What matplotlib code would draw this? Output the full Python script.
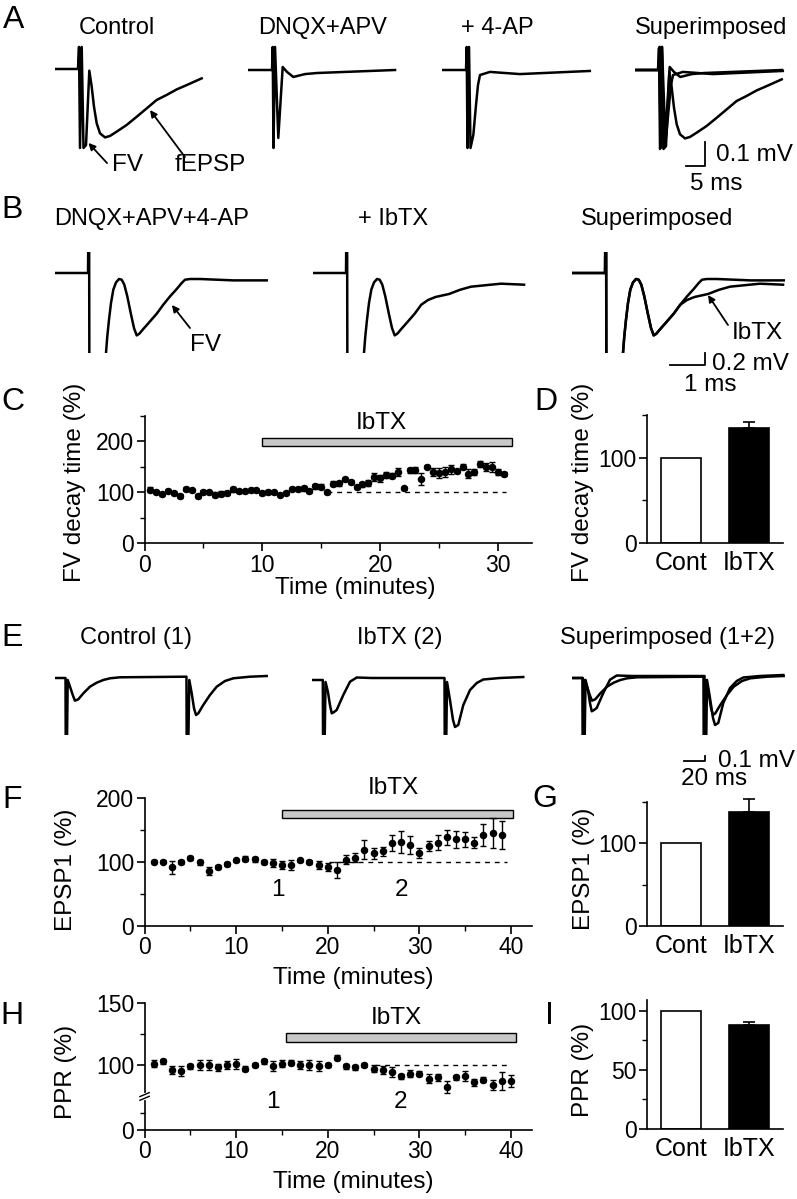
import numpy as np
import matplotlib
matplotlib.use('Agg')
import matplotlib.pyplot as plt
from matplotlib.patches import Rectangle

plt.rcParams['font.family'] = ['Liberation Sans', 'DejaVu Sans']

# ---------------- Panel A traces (ms, mV) ----------------
A_ctrl_t = [0, 6.05, 6.32, 6.58, 7.03, 7.5, 8.16, 9.03, 9.66, 10.26, 10.97, 11.84, 13.16, 14.47, 16.24, 18.87,
            21.5, 24.13, 26.76, 29.39, 32.03, 34.66, 38.6]
A_ctrl_v = [0, 0, 0.092, -0.329, 0.092, -0.329, -0.317, -0.007, -0.074, -0.157, -0.226, -0.268, -0.285, -0.279,
            -0.261, -0.233, -0.199, -0.164, -0.129, -0.108, -0.085, -0.067, -0.039]
A_dnqx_t = [0, 6.32, 6.5, 6.71, 7.11, 7.97, 9.13, 10.26, 11.92, 15.0, 18.2, 38.7]
A_dnqx_v = [0, 0, 0.096, -0.325, 0.096, -0.283, 0.0125, -0.008, -0.029, -0.017, -0.0125, 0]
A_4ap_t = [0, 6.32, 6.5, 6.71, 7.11, 7.5, 8.24, 8.95, 9.47, 10.0, 12.6, 20.5, 38.9]
A_4ap_v = [0, 0, 0.096, -0.325, 0.096, -0.325, -0.271, -0.146, -0.0625, -0.021, -0.008, -0.017, -0.004]

# ---------------- Panel B traces (ms, mV) ----------------
B_ctrl_t = [0, 0.943, 0.971, 0.986, 1.429, 1.457, 1.494, 1.543, 1.6, 1.666, 1.743, 1.829, 1.906, 1.98, 2.066,
            2.163, 2.257, 2.334, 2.409, 2.523, 2.714, 2.906, 3.094, 3.286, 3.477, 3.62, 3.714, 3.857, 4.143,
            5.094, 6.049]
B_ctrl_v = [0, 0, 2, -3, -3, -1.333, -1.057, -0.778, -0.5, -0.278, -0.157, -0.1, -0.112, -0.195, -0.39,
            -0.667, -0.917, -1.04, -1.012, -0.933, -0.807, -0.678, -0.528, -0.39, -0.267, -0.167, -0.112, -0.1,
            -0.1, -0.123, -0.123]
B_ibtx_t = [0, 0.943, 0.971, 0.986, 1.429, 1.457, 1.494, 1.543, 1.6, 1.666, 1.743, 1.829, 1.906, 1.98, 2.066,
            2.163, 2.257, 2.334, 2.409, 2.523, 2.714, 2.906, 3.094, 3.286, 3.5, 3.886, 4.2, 4.514, 5.37, 6.03]
B_ibtx_v = [0, 0, 2, -3, -3, -1.333, -1.057, -0.778, -0.5, -0.278, -0.157, -0.1, -0.112, -0.195, -0.39,
            -0.667, -0.917, -1.04, -1.012, -0.933, -0.807, -0.678, -0.528, -0.45, -0.40, -0.35, -0.28, -0.228,
            -0.178, -0.195]

# ---------------- Panel E traces (ms, mV) ----------------
E_ctrl_t = [0, 10.0, 10.5, 12.1, 14.3, 16.9, 19.0, 22.2, 27.0, 33.3, 39.7, 46.0, 52.4, 61.9, 123.8, 125.2,
            125.7, 127.9, 130.2, 132.4, 134.3, 136.5, 141.2, 147.6, 154.0, 161.9, 169.8, 185.7, 201.6]
E_ctrl_v = [0, 0, -3, -0.04, -0.174, -0.34, -0.454, -0.426, -0.306, -0.174, -0.094, -0.04, -0.006, 0.014,
            0.026, 0.026, -3, -0.04, -0.306, -0.606, -0.74, -0.706, -0.54, -0.34, -0.174, -0.06, -0.006, 0.026, 0.04]
E_ibtx_t = [0, 10.3, 10.8, 12.9, 15.2, 17.1, 18.8, 21.0, 23.5, 29.8, 36.2, 42.6, 57.1, 126.2, 126.7, 128.6,
            131.4, 134.3, 136.2, 139.3, 144.1, 150.5, 156.9, 163.1, 179.0, 201.2]
E_ibtx_v = [0, 0, -3, -0.04, -0.24, -0.5, -0.666, -0.64, -0.6, -0.3, -0.034, 0.05, 0.04, 0.04, -3, -0.04,
            -0.4, -0.8, -0.94, -0.9, -0.5, -0.2, -0.06, 0.01, 0.04, 0.06]

# ---------------- Panel C: FV decay time (%) ----------------
C_time = [0.5, 1.0, 1.5, 2.0, 2.5, 3.0, 3.5, 4.0, 4.5, 5.0, 5.5, 6.0, 6.5, 7.0, 7.5, 8.0, 8.5, 9.0, 9.5, 10.0,
          10.5, 11.0, 11.5, 12.0, 12.5, 13.0, 13.5, 14.0, 14.5, 15.0, 15.5, 16.0, 16.5, 17.0, 17.5, 18.0, 18.5, 19.0, 19.5, 20.0,
          20.5, 21.0, 21.5, 22.0, 22.5, 23.0, 23.5, 24.0, 24.5, 25.0, 25.5, 26.0, 26.5, 27.0, 27.5, 28.0, 28.5, 29.0, 29.5, 30.0, 30.5]
C_val = [105, 100, 97, 103, 98, 93, 106, 104, 92, 100, 100, 95, 97, 98, 106, 102, 102, 105, 104, 98,
         101, 100, 95, 99, 107, 106, 108, 103, 112, 111, 100, 117, 118, 126, 121, 111, 116, 118, 131, 128,
         135, 133, 140, 108, 143, 144, 126, 150, 140, 138, 140, 145, 142, 150, 137, 140, 155, 150, 150, 140, 137]
C_err = [5, 4, 4, 3, 3, 4, 4, 3, 4, 4, 3, 5, 5, 4, 5, 3, 3, 3, 3, 4,
         4, 3, 3, 3, 3, 4, 5, 4, 5, 5, 3, 5, 5, 3, 4, 4, 5, 6, 8, 7,
         6, 5, 7, 3, 5, 5, 12, 3, 8, 10, 9, 8, 4, 5, 8, 5, 6, 8, 10, 6, 4]

# ---------------- Panel F: EPSP1 (%) ----------------
F_time = list(range(1, 40))
F_val = [100, 100, 91, 99, 106, 99, 86, 92, 97, 102, 105, 104, 100, 98, 95, 95, 102, 100, 95, 92,
         87, 103, 106, 119, 113, 116, 129, 131, 126, 114, 125, 130, 138, 135, 135, 130, 142, 145, 142]
F_err = [2, 2, 10, 3, 3, 4, 6, 3, 3, 3, 4, 4, 3, 6, 6, 8, 3, 3, 6, 6,
         12, 7, 7, 15, 8, 7, 13, 17, 14, 8, 8, 11, 12, 13, 12, 8, 17, 24, 22]

# ---------------- Panel H: PPR (%) ----------------
H_time = list(range(1, 41))
H_val = [101, 103, 96, 95, 99, 100, 100, 98, 100, 101, 97, 100, 103, 99, 101, 102, 100, 100, 99, 100,
         106, 99, 98, 100, 97, 96, 94, 91, 93, 93, 89, 90, 82, 90, 91, 86, 88, 84, 87, 87]
H_err = [3, 2, 3, 4, 2, 4, 4, 3, 3, 4, 2, 2, 2, 4, 3, 2, 3, 4, 4, 2,
         2, 2, 2, 2, 3, 3, 4, 2, 3, 2, 4, 3, 5, 2, 4, 3, 2, 4, 7, 5]

# ---------------- Bar summaries ----------------
bar_labels = ['Cont', 'IbTX']
D_val = [100, 135]
D_err = 7
G_val = [100, 137]
G_err = 16
I_val = [100, 88]
I_err = 2

W, H = 797, 1199
fig = plt.figure(figsize=(W / 100, H / 100), dpi=100)

TITLE = 17
LETTER = 23
LABEL = 17.5
TICK = 16.5


def rect(l, t, r, b):
    return [l / W, 1 - b / H, (r - l) / W, (b - t) / H]


def ftext(x, y, s, size=16, **kw):
    kw.setdefault('ha', 'center')
    kw.setdefault('va', 'center')
    fig.text(x / W, 1 - y / H, s, fontsize=size, **kw)


def trace_ax(x0, base, px_ms, px_mv, width, top, bottom):
    ax = fig.add_axes(rect(x0, top, x0 + width, bottom))
    ax.set_xlim(0, width / px_ms)
    ax.set_ylim(-(bottom - base) / px_mv, (base - top) / px_mv)
    ax.axis('off')
    return ax


TLW = 1.8
arrow_kw = dict(arrowstyle='-|>', color='k', lw=1.3, mutation_scale=10, shrinkA=0, shrinkB=0)

# ================= Panel A =================
ftext(14, 20, 'A', LETTER)
for x, s in [(117, 'Control'), (323, 'DNQX+APV'), (497, '+ 4-AP'), (711, 'Superimposed')]:
    ftext(x, 28, s, TITLE)

axA1 = trace_ax(55, 69, 3.8, 240, 155, 35, 175)
axA1.plot(A_ctrl_t, A_ctrl_v, color='k', lw=TLW)
axA1.annotate('', xy=(8.8, -0.308), xytext=(13.7, -0.392), arrowprops=arrow_kw, annotation_clip=False)
axA1.text(15.0, -0.40, 'FV', fontsize=LABEL, ha='left', va='center')
axA1.annotate('', xy=(25.0, -0.171), xytext=(34.2, -0.367), arrowprops=arrow_kw, annotation_clip=False)
axA1.text(31.6, -0.40, 'fEPSP', fontsize=LABEL, ha='left', va='center', clip_on=False)

axA2 = trace_ax(248, 70, 3.8, 240, 155, 35, 175)
axA2.plot(A_dnqx_t, A_dnqx_v, color='k', lw=TLW)
axA3 = trace_ax(442, 70, 3.8, 240, 155, 35, 175)
axA3.plot(A_4ap_t, A_4ap_v, color='k', lw=TLW)
axA4 = trace_ax(635, 70, 3.8, 240, 155, 35, 175)
for t, v in [(A_ctrl_t, A_ctrl_v), (A_dnqx_t, A_dnqx_v), (A_4ap_t, A_4ap_v)]:
    axA4.plot(t, v, color='k', lw=TLW)
axA4.plot([13.42, 18.42, 18.42], [-0.4, -0.4, -0.3], color='k', lw=1.3, clip_on=False)
axA4.text(21.3, -0.355, '0.1 mV', fontsize=LABEL, ha='left', va='center', clip_on=False)
axA4.text(14.6, -0.475, '5 ms', fontsize=LABEL, ha='left', va='center', clip_on=False)

# ================= Panel B =================
ftext(12, 210, 'B', LETTER)
for x, s in [(152, 'DNQX+APV+4-AP'), (393, '+ IbTX'), (657, 'Superimposed')]:
    ftext(x, 219, s, TITLE)

axB1 = trace_ax(55, 273, 35, 60, 215, 252, 353)
axB1.plot(B_ctrl_t, B_ctrl_v, color='k', lw=TLW)
axB1.annotate('', xy=(3.34, -0.533), xytext=(3.857, -0.917), arrowprops=arrow_kw, annotation_clip=False)
axB1.text(3.85, -1.2, 'FV', fontsize=LABEL, ha='left', va='center', clip_on=False)

axB2 = trace_ax(313, 273, 35, 60, 215, 252, 353)
axB2.plot(B_ibtx_t, B_ibtx_v, color='k', lw=TLW)

axB3 = trace_ax(572, 273, 35, 60, 215, 252, 353)
axB3.plot(B_ctrl_t, B_ctrl_v, color='k', lw=TLW)
axB3.plot(B_ibtx_t, B_ibtx_v, color='k', lw=TLW)
axB3.annotate('', xy=(3.886, -0.367), xytext=(4.457, -0.867), arrowprops=arrow_kw, annotation_clip=False)
axB3.text(4.55, -1.0, 'IbTX', fontsize=LABEL, ha='left', va='center', clip_on=False)
axB3.plot([2.8, 3.8, 3.8], [-1.533, -1.533, -1.333], color='k', lw=1.3, clip_on=False)
axB3.text(4.0, -1.52, '0.2 mV', fontsize=LABEL, ha='left', va='center', clip_on=False)
axB3.text(3.2, -1.87, '1 ms', fontsize=LABEL, ha='left', va='center', clip_on=False)

# ================= Panel E =================
ftext(12, 638, 'E', LETTER)
for x, s in [(136, 'Control (1)'), (400, 'IbTX (2)'), (668, 'Superimposed (1+2)')]:
    ftext(x, 638, s, TITLE)

axE1 = trace_ax(55, 678, 1.05, 50, 215, 650, 735)
axE1.plot(E_ctrl_t, E_ctrl_v, color='k', lw=TLW)
axE2 = trace_ax(312, 680, 1.05, 50, 215, 650, 735)
axE2.plot(E_ibtx_t, E_ibtx_v, color='k', lw=TLW)
axE3 = trace_ax(572, 678, 1.05, 50, 215, 650, 735)
axE3.plot(E_ctrl_t, E_ctrl_v, color='k', lw=TLW)
axE3.plot(E_ibtx_t, E_ibtx_v, color='k', lw=TLW)
axE3.plot([106.7, 126.7, 126.7], [-1.66, -1.66, -1.56], color='k', lw=1.3, clip_on=False)
axE3.text(139.0, -1.66, '0.1 mV', fontsize=LABEL, ha='left', va='center', clip_on=False)
axE3.text(104.0, -2.02, '20 ms', fontsize=LABEL, ha='left', va='center', clip_on=False)


# ================= helpers for plots =================
def style_ax(ax):
    for s in ['top', 'right']:
        ax.spines[s].set_visible(False)
    for s in ['left', 'bottom']:
        ax.spines[s].set_linewidth(1.2)
    ax.tick_params(which='major', direction='out', length=6, width=1.2, labelsize=TICK, pad=1.5)
    ax.tick_params(which='minor', direction='out', length=3.5, width=1.0)


def timecourse(ax, t, v, e):
    ax.errorbar(t, v, yerr=e, fmt='o', color='k', ms=4.4, capsize=2.2, elinewidth=1.0,
                capthick=1.0, zorder=3, clip_on=False)


def bars(ax, vals, err):
    ax.bar([0, 1], vals, width=0.6, color=['white', 'black'], edgecolor='k', linewidth=1.2, zorder=2)
    ax.errorbar([1], [vals[1]], yerr=[[0], [err]], fmt='none', ecolor='k', elinewidth=1.2,
                capsize=4, capthick=1.2, zorder=1, clip_on=False)
    ax.set_xlim(-0.5, 1.5)
    ax.set_xticks([0, 1])
    ax.set_xticklabels(bar_labels, fontsize=18)
    ax.tick_params(axis='x', length=0, pad=6)


# ================= Panel C =================
ftext(13, 402, 'C', LETTER)
axC = fig.add_axes(rect(144.6, 416, 532, 543.3))
style_ax(axC)
axC.set_xlim(0, 32.9)
axC.set_ylim(0, 250)
axC.set_xticks([0, 10, 20, 30])
axC.set_xticks([5, 15, 25], minor=True)
axC.set_yticks([0, 100, 200])
axC.set_yticks([50, 150, 250], minor=True)
axC.plot([15.5, 30.7], [100, 100], color='k', lw=1, dashes=(3.5, 3.5), zorder=1)
timecourse(axC, C_time, C_val, C_err)
axC.add_patch(Rectangle((10, 192), 21.2, 14.5, facecolor='#c8c8c8', edgecolor='k', lw=1, clip_on=False))
axC.text(20.1, 236, 'IbTX', fontsize=LABEL, ha='center', va='center', clip_on=False)
ftext(75, 482, 'FV decay time (%)', LABEL, rotation=90)
ftext(355, 588, 'Time (minutes)', LABEL)

# ================= Panel D =================
ftext(546, 402, 'D', LETTER)
axD = fig.add_axes(rect(647, 415, 783, 543))
style_ax(axD)
bars(axD, D_val, D_err)
axD.set_ylim(0, 150)
axD.set_yticks([0, 100])
axD.set_yticks([50, 150], minor=True)
ftext(583, 482, 'FV decay time (%)', LABEL, rotation=90)

# ================= Panel F =================
ftext(12, 800, 'F', LETTER)
axF = fig.add_axes(rect(144.6, 797.7, 532, 925.7))
style_ax(axF)
axF.set_xlim(0, 42.3)
axF.set_ylim(0, 200)
axF.set_xticks([0, 10, 20, 30, 40])
axF.set_xticks([5, 15, 25, 35], minor=True)
axF.set_yticks([0, 100, 200])
axF.set_yticks([50, 150], minor=True)
axF.plot([20.1, 39.6], [100, 100], color='k', lw=1, dashes=(3.5, 3.5), zorder=1)
timecourse(axF, F_time, F_val, F_err)
axF.add_patch(Rectangle((15.0, 168), 25.2, 12.6, facecolor='#c8c8c8', edgecolor='k', lw=1, clip_on=False))
axF.text(27.2, 215, 'IbTX', fontsize=LABEL, ha='center', va='center', clip_on=False)
axF.text(14.6, 56, '1', fontsize=LABEL, ha='center', va='center')
axF.text(28.1, 56, '2', fontsize=LABEL, ha='center', va='center')
ftext(66, 870, 'EPSP1 (%)', LABEL, rotation=90)
ftext(353, 978, 'Time (minutes)', LABEL)

# ================= Panel G =================
ftext(545, 799, 'G', LETTER)
axG = fig.add_axes(rect(647, 801.5, 783, 926))
style_ax(axG)
bars(axG, G_val, G_err)
axG.set_ylim(0, 150)
axG.set_yticks([0, 100])
axG.set_yticks([50, 150], minor=True)
ftext(584, 869, 'EPSP1 (%)', LABEL, rotation=90)

# ================= Panel H =================
H_bottom = 47.3   # axis position shown as "0" below the axis break
ftext(12, 1016, 'H', LETTER)
axH = fig.add_axes(rect(144.6, 1003.3, 532, 1130))
style_ax(axH)
axH.set_xlim(0, 42.3)
axH.set_ylim(H_bottom, 150)
axH.set_xticks([0, 10, 20, 30, 40])
axH.set_xticks([5, 15, 25, 35], minor=True)
axH.set_yticks([H_bottom, 100, 150])
axH.set_yticklabels(['0', '100', '150'])
axH.set_yticks([61, 125], minor=True)
axH.plot([25.2, 39.6], [100, 100], color='k', lw=1, dashes=(3.5, 3.5), zorder=1)
timecourse(axH, H_time, H_val, H_err)
axH.add_patch(Rectangle((15.4, 118.9), 25.2, 6.8, facecolor='#c8c8c8', edgecolor='k', lw=1, clip_on=False))
axH.text(27.5, 137.9, 'IbTX', fontsize=LABEL, ha='center', va='center')
axH.text(14.0, 70.3, '1', fontsize=LABEL, ha='center', va='center')
axH.text(27.9, 70.3, '2', fontsize=LABEL, ha='center', va='center')
yt = axH.get_yaxis_transform()
axH.plot([0, 0], [73.0, 76.0], transform=yt, color='white', lw=3, clip_on=False, zorder=5)
for yb in (73.0, 76.0):
    axH.plot([-0.012, 0.012], [yb - 1.6, yb + 1.6], transform=yt, color='k', lw=1.0, clip_on=False, zorder=6)
ftext(66, 1072, 'PPR (%)', LABEL, rotation=90)
ftext(353, 1182, 'Time (minutes)', LABEL)

# ================= Panel I =================
ftext(549, 1016, 'I', LETTER)
axI = fig.add_axes(rect(647, 1000, 783, 1129))
style_ax(axI)
bars(axI, I_val, I_err)
axI.set_ylim(0, 109)
axI.set_yticks([0, 50, 100])
axI.set_yticks([25, 75], minor=True)
ftext(583, 1070, 'PPR (%)', LABEL, rotation=90)

fig.savefig('out.png', dpi=100, facecolor='white')
